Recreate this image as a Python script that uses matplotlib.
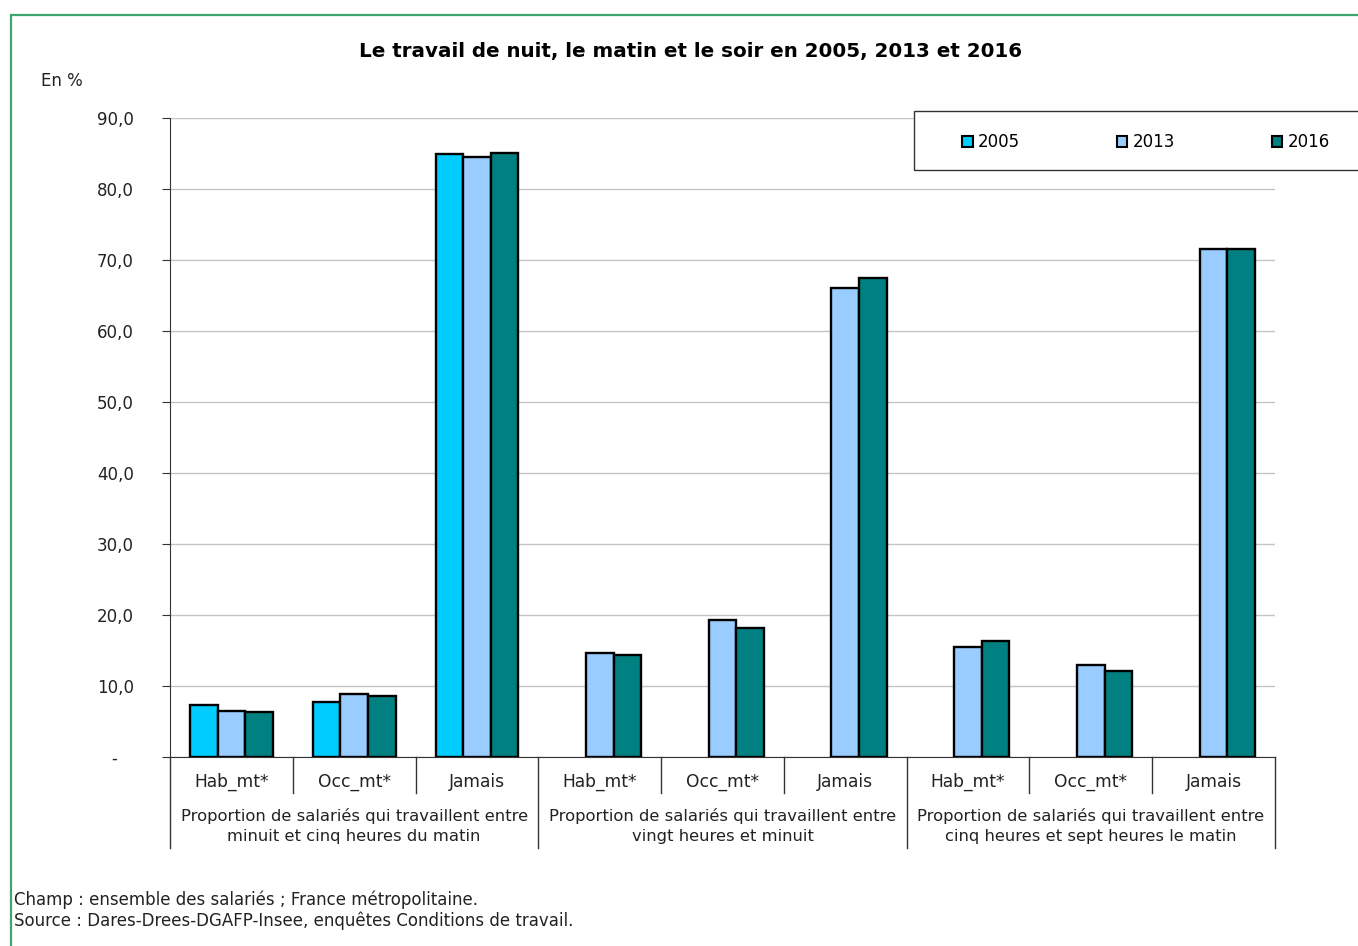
import numpy as np
import matplotlib
matplotlib.use("Agg")
import matplotlib.pyplot as plt
from matplotlib.patches import Patch, Rectangle

plt.rcParams['font.family'] = ['DejaVu Sans']

# données (en %)
categories = ["Hab_mt*", "Occ_mt*", "Jamais"] * 3
groups = ["Proportion de salariés qui travaillent entre\nminuit et cinq heures du matin",
          "Proportion de salariés qui travaillent entre\nvingt heures et minuit",
          "Proportion de salariés qui travaillent entre\ncinq heures et sept heures le matin"]
years = ["2005", "2013", "2016"]
v2005 = [7.3, 7.8, 84.9, np.nan, np.nan, np.nan, np.nan, np.nan, np.nan]
v2013 = [6.5, 8.9, 84.5, 14.7, 19.3, 66.0, 15.5, 13.0, 71.5]
v2016 = [6.3, 8.6, 85.1, 14.4, 18.1, 67.5, 16.3, 12.1, 71.6]
colors = ['#00CCFF', '#99CCFF', '#008080']

W, H = 1358, 946
fig = plt.figure(figsize=(W / 100, H / 100), dpi=100)
ax = fig.add_axes([170 / W, 1 - 757 / H, 1105 / W, 639 / H])

x = np.arange(len(categories)) + 0.5
bw = 0.225
for k, vals in enumerate([v2005, v2013, v2016]):
    ax.bar(x + (k - 1) * bw, vals, width=bw, color=colors[k],
           edgecolor='black', linewidth=1.7, zorder=3)

ax.set_xlim(0, len(categories))
ax.set_ylim(0, 90)
yt = np.arange(0, 91, 10)
ax.set_yticks(yt)
ax.set_yticklabels(["-   "] + [f"{v:.1f}".replace('.', ',') for v in yt[1:]],
                   fontsize=12, color='#222222')
ax.tick_params(axis='y', direction='out', length=6, pad=20, color='#333333')
ax.set_xticks([])
ax.grid(axis='y', color='#c4c4c4', linewidth=1, zorder=0)
for s in ['top', 'right']:
    ax.spines[s].set_visible(False)
ax.spines['left'].set_color('#333333')
ax.spines['bottom'].set_color('#333333')

# séparateurs et étiquettes de l'axe x
tr = ax.get_xaxis_transform()
for b in range(len(categories) + 1):
    y0 = -0.142 if b % 3 == 0 else -0.056
    ax.plot([b, b], [0, y0], transform=tr, clip_on=False, color='#333333', lw=1)
for xi, c in zip(x, categories):
    ax.text(xi, -0.039, c, transform=tr, ha='center', va='center', fontsize=12.3,
            color='#222222')
for g, lab in enumerate(groups):
    ax.text(3 * g + 1.5, -0.108, lab, transform=tr, ha='center', va='center',
            fontsize=11.8, linespacing=1.4, color='#222222')

# titre et textes
fig.text(691 / W, 1 - 52 / H, "Le travail de nuit, le matin et le soir en 2005, 2013 et 2016",
         ha='center', va='center', fontsize=14.3, fontweight='bold')
fig.text(41 / W, 1 - 81 / H, "En %", ha='left', va='center', fontsize=12, color='#222222')
fig.text(14 / W, 1 - 900 / H, "Champ : ensemble des salariés ; France métropolitaine.",
         ha='left', va='center', fontsize=12, color='#222222')
fig.text(14 / W, 1 - 921 / H, "Source : Dares-Drees-DGAFP-Insee, enquêtes Conditions de travail.",
         ha='left', va='center', fontsize=12, color='#222222')

# légende
fig.add_artist(Rectangle((914 / W, 1 - 170 / H), 0.5, 59 / H, transform=fig.transFigure,
                         facecolor='white', edgecolor='#333333', lw=1, zorder=5))
handles = [Patch(facecolor=c, edgecolor='black', linewidth=1.5) for c in colors]
leg = fig.legend(handles, years, ncol=3, frameon=False, loc='center left',
                 bbox_to_anchor=(962 / W, 1 - 142 / H), fontsize=12,
                 handlelength=0.65, handleheight=0.65, handletextpad=0.3,
                 columnspacing=5.8, borderpad=0, borderaxespad=0)
leg.set_zorder(6)

# cadre vert
fig.add_artist(Rectangle((11 / W, -0.1), 1.5, 1.1 - 15 / H, transform=fig.transFigure,
                         fill=False, edgecolor='#3ca66c', lw=1.6, zorder=7))

fig.savefig('out.png', dpi=100)
